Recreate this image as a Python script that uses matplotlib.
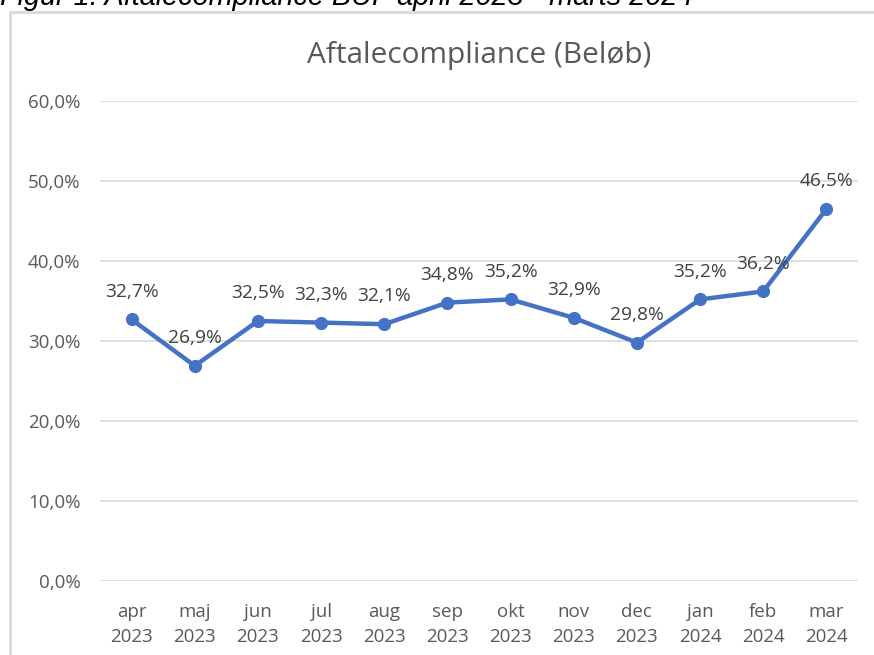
import matplotlib.pyplot as plt
from matplotlib.patches import Rectangle

# data
months = ['apr', 'maj', 'jun', 'jul', 'aug', 'sep', 'okt', 'nov', 'dec', 'jan', 'feb', 'mar']
years = ['2023'] * 9 + ['2024'] * 3
values = [32.7, 26.9, 32.5, 32.3, 32.1, 34.8, 35.2, 32.9, 29.8, 35.2, 36.2, 46.5]
yticks = [0, 10, 20, 30, 40, 50, 60]

W, H = 874, 655
fig = plt.figure(figsize=(W / 100, H / 100), dpi=100)
plt.rcParams['font.family'] = ['Open Sans', 'DejaVu Sans']

# chart frame (cut off on the right/bottom)
fig.patches.append(Rectangle((10 / W, -0.05), 1.0, 1 - 12 / H + 0.05, transform=fig.transFigure,
                             facecolor='none', edgecolor='#d9d9d9', linewidth=2, zorder=-1))

# caption, mostly cropped at the top
fig.text(0.0, 1 - 5 / H, 'Figur 1: Aftalecompliance BUF april 2023 - marts 2024',
         fontsize=20.8, style='italic', family='Liberation Sans', color='#000000', va='baseline')

ax = fig.add_axes([100 / W, 1 - 581 / H, 758 / W, 480 / H])
ax.set_facecolor('none')
x = list(range(len(values)))
ax.plot(x, values, color='#4472c4', linewidth=3.2, marker='o', markersize=8.5, zorder=3)
for i, v in enumerate(values):
    ax.annotate(f'{v:.1f}%'.replace('.', ','), (i, v), xytext=(0, 20), textcoords='offset points',
                ha='center', va='center', fontsize=13.8, color='#404040')

ax.set_xlim(-0.5, len(values) - 0.5)
ax.set_ylim(0, 60)
ax.set_yticks(yticks)
ax.set_yticklabels([f'{t:.1f}%'.replace('.', ',') for t in yticks])
ax.set_xticks(x)
ax.set_xticklabels([f'{m}\n{y}' for m, y in zip(months, years)], linespacing=1.5)
ax.grid(axis='y', color='#d9d9d9', linewidth=1.2)
ax.set_axisbelow(True)
for s in ax.spines.values():
    s.set_visible(False)
ax.tick_params(length=0, labelsize=13.5, labelcolor='#595959')
ax.tick_params(axis='y', pad=14)
ax.tick_params(axis='x', pad=16)
ax.set_title('Aftalecompliance (Beløb)', fontsize=21.5, color='#595959', pad=27)

fig.savefig('out.png', dpi=100)
